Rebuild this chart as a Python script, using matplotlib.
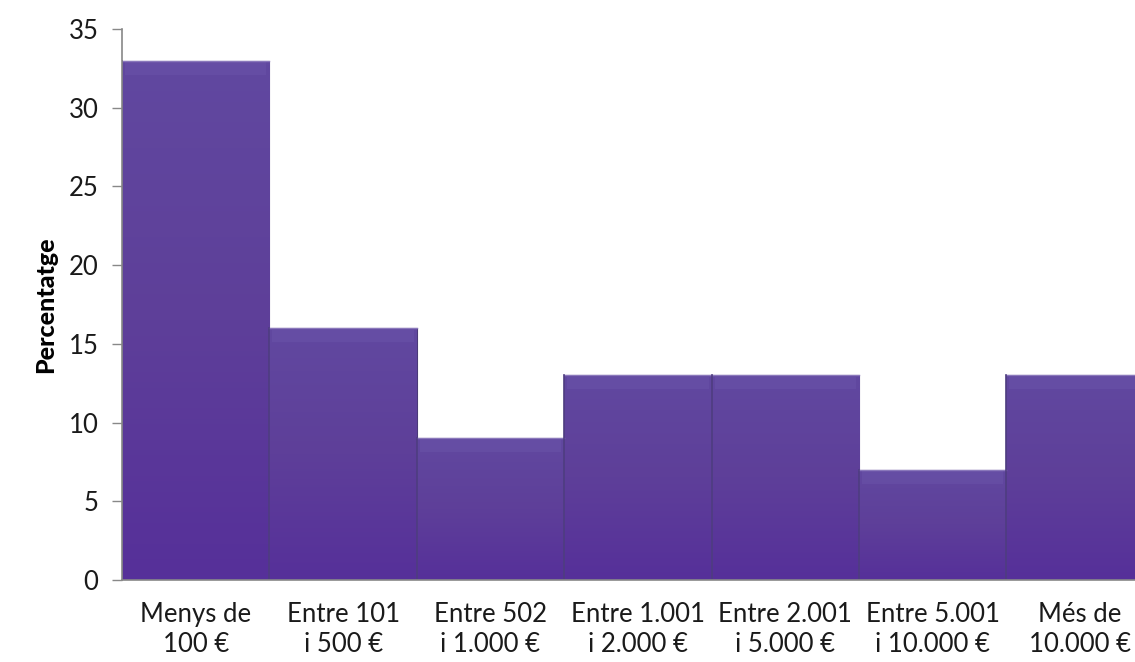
import numpy as np
import matplotlib.pyplot as plt
from matplotlib.colors import LinearSegmentedColormap

plt.rcParams['font.family'] = ['Lato', 'DejaVu Sans']

# despesa per franja
categories = ['Menys de\n100 €', 'Entre 101\ni 500 €', 'Entre 502\ni 1.000 €',
              'Entre 1.001\ni 2.000 €', 'Entre 2.001\ni 5.000 €',
              'Entre 5.001\ni 10.000 €', 'Més de\n10.000 €']
values = [33, 16, 9, 13, 13, 7, 13]
yticks = [0, 5, 10, 15, 20, 25, 30, 35]

fig = plt.figure(figsize=(11.35, 6.62), dpi=100)
ax = fig.add_axes([0.1075, 0.124, 0.909, 0.832])

x = np.arange(len(values))
bars = ax.bar(x, values, width=1.0, color='#5c3d9a', edgecolor='#4a3a78',
              linewidth=0.8, zorder=2)

# vertical gradient inside each bar, clipped to the bar patch
grad = LinearSegmentedColormap.from_list('g', ['#56309a', '#5e3f99', '#6148a0'])
for b in bars:
    x0, w, h = b.get_x(), b.get_width(), b.get_height()
    img = ax.imshow(np.linspace(0, 1, 100).reshape(-1, 1), cmap=grad,
                    extent=[x0, x0 + w, 0, h], origin='lower', aspect='auto',
                    zorder=2.1)
    img.set_clip_path(b)
    # soft bevel along the top edge
    ax.fill_between([x0 + 0.02, x0 + w - 0.02], h - 0.9, h - 0.1,
                    color='#6a52a8', alpha=0.6, lw=0, zorder=2.2)
    ax.plot([x0, x0 + w], [h, h], color='#8a78bb', lw=1.0, zorder=2.3)
    ax.plot([x0, x0], [0, h], color='#4e3d80', lw=1.2, zorder=2.3)

ax.set_xlim(-0.5, len(values) - 0.5)
ax.set_ylim(0, 35)
ax.set_yticks(yticks)
ax.set_xticks(x)
ax.set_xticklabels(categories, fontsize=18.5, linespacing=1.25, color='#1a1a1a')
ax.tick_params(axis='x', length=0, pad=16)
ax.tick_params(axis='y', labelsize=18.5, labelcolor='#1a1a1a', length=7, width=1,
               color='#888888', pad=10)

ax.set_ylabel('Percentatge', fontsize=18, fontweight='black', labelpad=8)

for s in ['top', 'right']:
    ax.spines[s].set_visible(False)
for s in ['left', 'bottom']:
    ax.spines[s].set_color('#888888')
    ax.spines[s].set_linewidth(1.2)

fig.savefig('out.png', dpi=100)
